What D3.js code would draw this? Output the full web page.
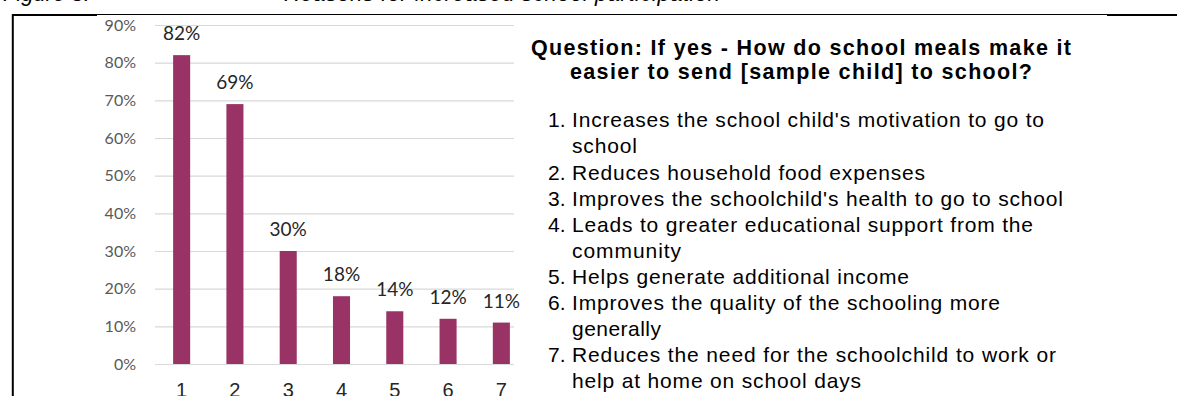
<!DOCTYPE html>
<html>
<head>
<meta charset="utf-8">
<script src="https://cdn.jsdelivr.net/npm/d3@7"></script>
<style>
  html, body { margin: 0; padding: 0; background: #fff; }
  svg { display: block; }
</style>
</head>
<body>
<svg id="fig" width="1177" height="396"></svg>
<script>
// Reasons school meals make it easier to send the child to school
const categories = ["1", "2", "3", "4", "5", "6", "7"];
const shares = [0.82, 0.69, 0.30, 0.18, 0.14, 0.12, 0.11];
const tickValues = [0, 0.1, 0.2, 0.3, 0.4, 0.5, 0.6, 0.7, 0.8, 0.9];

const captionParts = ["Figure 5:", "Reasons for increased school participation"];
const questionLines = [
  "Question: If yes - How do school meals make it",
  "easier to send [sample child] to school?"
];
// answer options: [number, text lines]
const answerNumbers = ["1.", "2.", "3.", "4.", "5.", "6.", "7."];
const answerLines = [
  ["Increases the school child's motivation to go to", "school"],
  ["Reduces household food expenses"],
  ["Improves the schoolchild's health to go to school"],
  ["Leads to greater educational support from the", "community"],
  ["Helps generate additional income"],
  ["Improves the quality of the schooling more", "generally"],
  ["Reduces the need for the schoolchild to work or", "help at home on school days"]
];
// rendered width of each answer line (px), same order as the lines above
const answerWidths = [
  [472, 65], [353], [491], [461, 109], [337], [428, 89], [484, 289]
];

const svg = d3.select("#fig");
const BAR = "#993366";
const sans = "'Liberation Sans', Arial, sans-serif";
const calib = "Lato, 'Open Sans', sans-serif";

// ---- caption (clipped by the top of the page) ----
svg.append("text")
  .attr("x", 3).attr("y", 0.7)
  .attr("font-family", sans).attr("font-style", "italic").attr("font-size", 22)
  .attr("fill", "#000")
  .text(captionParts[0]);
svg.append("text")
  .attr("x", 284).attr("y", 0.7)
  .attr("font-family", sans).attr("font-style", "italic").attr("font-size", 22)
  .attr("textLength", 436).attr("lengthAdjust", "spacing")
  .attr("fill", "#000")
  .text(captionParts[1]);

// ---- frame ----
svg.append("line").attr("x1", 12).attr("x2", 1177).attr("y1", 14.5).attr("y2", 14.5)
  .attr("stroke", "#000").attr("stroke-width", 1);
svg.append("rect").attr("x", 12).attr("y", 14).attr("width", 85).attr("height", 2).attr("fill", "#000");
svg.append("rect").attr("x", 1107).attr("y", 14).attr("width", 70).attr("height", 2).attr("fill", "#000");
svg.append("line").attr("x1", 12.8).attr("x2", 12.8).attr("y1", 14).attr("y2", 396)
  .attr("stroke", "#000").attr("stroke-width", 2);

// ---- bar chart ----
const x = d3.scaleBand().domain(categories).range([155, 528])
  .paddingInner(0.68).paddingOuter(0.34);
const y = d3.scaleLinear().domain([0, 0.9]).range([364, 25]);
const gridRight = 514;

const yAxis = d3.axisLeft(y)
  .tickValues(tickValues)
  .tickFormat(d3.format(".0%"))
  .tickSizeInner(-(gridRight - 155))
  .tickSizeOuter(0)
  .tickPadding(19);

const gy = svg.append("g").attr("transform", "translate(155,0)").call(yAxis);
gy.select(".domain").remove();
gy.selectAll(".tick line").attr("stroke", "#d9d9d9").attr("stroke-width", 1.2);
gy.selectAll(".tick text")
  .attr("font-family", calib).attr("font-size", 16).attr("fill", "#595959");

svg.append("g").selectAll("rect")
  .data(shares)
  .join("rect")
  .attr("x", (d, i) => x(categories[i]))
  .attr("width", x.bandwidth())
  .attr("y", d => y(d))
  .attr("height", d => y(0) - y(d))
  .attr("fill", BAR);

svg.append("g").selectAll("text")
  .data(shares)
  .join("text")
  .attr("x", (d, i) => x(categories[i]) + x.bandwidth() / 2)
  .attr("y", d => y(d) - 15)
  .attr("text-anchor", "middle")
  .attr("font-family", calib).attr("font-size", 19).attr("fill", "#262626")
  .text(d => d3.format(".0%")(d));

const xAxis = d3.axisBottom(x).tickSize(0).tickPadding(0);
const gx = svg.append("g").attr("transform", "translate(0,364)").call(xAxis);
gx.select(".domain").remove();
gx.selectAll(".tick text")
  .attr("y", 32.5).attr("dy", 0)
  .attr("font-family", sans).attr("font-size", 20).attr("fill", "#262626");

// ---- question text ----
const qWidths = [540, 462];
const qBase = [55, 79];
questionLines.forEach((t, i) => {
  svg.append("text")
    .attr("x", 801).attr("y", qBase[i])
    .attr("text-anchor", "middle")
    .attr("font-family", sans).attr("font-weight", "bold").attr("font-size", 21.5)
    .attr("textLength", qWidths[i]).attr("lengthAdjust", "spacing")
    .attr("fill", "#000")
    .text(t);
});

// ---- answer list ----
let row = 0;
const firstBase = 127.3, lineStep = 26.1;
answerLines.forEach((lines, i) => {
  svg.append("text")
    .attr("x", 548).attr("y", firstBase + row * lineStep)
    .attr("font-family", sans).attr("font-size", 21).attr("fill", "#000")
    .text(answerNumbers[i]);
  lines.forEach((t, j) => {
    svg.append("text")
      .attr("x", 572).attr("y", firstBase + row * lineStep)
      .attr("font-family", sans).attr("font-size", 21).attr("fill", "#000")
      .attr("textLength", answerWidths[i][j]).attr("lengthAdjust", "spacing")
      .text(t);
    row += 1;
  });
});
</script>
</body>
</html>
